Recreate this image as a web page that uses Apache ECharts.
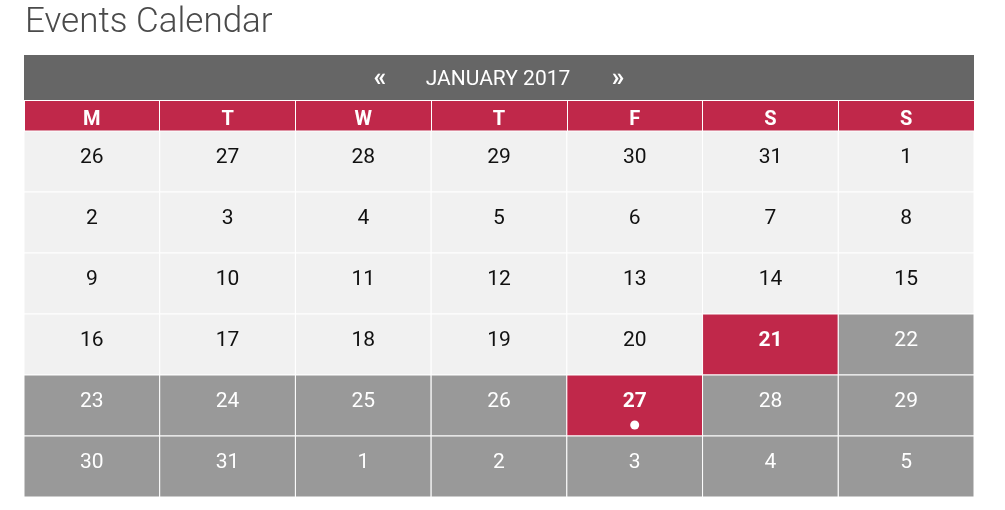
<!DOCTYPE html>
<html>
<head>
<meta charset="utf-8">
<title>Events Calendar</title>
<script src="https://cdn.jsdelivr.net/npm/echarts@6/dist/echarts.min.js"></script>
<style>
  html, body { margin: 0; padding: 0; background: #fff; }
  #calendar { width: 1005px; height: 510px; }
</style>
</head>
<body>
<div id="calendar"></div>
<script>
var weekdays = ['M', 'T', 'W', 'T', 'F', 'S', 'S'];
var monthLabel = 'JANUARY 2017';
var prevLabel = '\u00ab', nextLabel = '\u00bb';
var weekRows = [
    [26, 27, 28, 29, 30, 31, 1],
    [2, 3, 4, 5, 6, 7, 8],
    [9, 10, 11, 12, 13, 14, 15],
    [16, 17, 18, 19, 20, 21, 22],
    [23, 24, 25, 26, 27, 28, 29],
    [30, 31, 1, 2, 3, 4, 5]
];
// 0 = passed day, 1 = highlighted day, 2 = upcoming day
var cellStates = [
    [0, 0, 0, 0, 0, 0, 0],
    [0, 0, 0, 0, 0, 0, 0],
    [0, 0, 0, 0, 0, 0, 0],
    [0, 0, 0, 0, 0, 1, 2],
    [2, 2, 2, 2, 1, 2, 2],
    [2, 2, 2, 2, 2, 2, 2]
];
// [column, row] of cells that carry an event dot
var eventCells = [[4, 4]];
var weekLabels = ['w1', 'w2', 'w3', 'w4', 'w5', 'w6'];

var red = '#c0284a', darkGray = '#666666', midGray = '#999999', lightGray = '#f1f1f1';
var font = 'Roboto';

var cells = [];
weekRows.forEach(function (row, r) {
    row.forEach(function (day, c) {
        var hasEvent = eventCells.some(function (e) { return e[0] === c && e[1] === r; }) ? 1 : 0;
        cells.push([c, r, day, cellStates[r][c], hasEvent]);
    });
});

function renderCell(params, api) {
    var p = api.coord([api.value(0), api.value(1)]);
    var s = api.size([1, 1]);
    var x = p[0] - s[0] / 2, y = p[1] - s[1] / 2;
    var state = api.value(3);
    var fill = state === 0 ? lightGray : (state === 1 ? red : midGray);
    var children = [{
        type: 'rect',
        shape: {x: x, y: y, width: s[0], height: s[1]},
        style: {fill: fill, stroke: '#ffffff', lineWidth: 1}
    }, {
        type: 'text',
        x: p[0],
        y: y + 27,
        style: {
            text: String(api.value(2)),
            fill: state === 0 ? '#111111' : '#ffffff',
            fontSize: 21,
            fontFamily: font,
            fontWeight: state === 1 ? 'bold' : 'normal',
            align: 'center',
            verticalAlign: 'middle'
        }
    }];
    if (api.value(4)) {
        children.push({
            type: 'circle',
            shape: {cx: p[0], cy: y + 50, r: 4.5},
            style: {fill: '#ffffff'}
        });
    }
    return {type: 'group', children: children};
}

var chart = echarts.init(document.getElementById('calendar'));
var option = {
    backgroundColor: '#ffffff',
    animation: false,
    title: {
        text: 'Events Calendar',
        left: 25,
        top: 6,
        padding: 0,
        textStyle: {color: '#4a4a4a', fontSize: 35, fontWeight: 300, fontFamily: font}
    },
    graphic: [
        {type: 'rect', shape: {x: 24, y: 55, width: 950, height: 45}, style: {fill: darkGray}, z: 0},
        {type: 'rect', shape: {x: 24, y: 101, width: 950, height: 30}, style: {fill: red}, z: 0},
        {type: 'text', x: 498, y: 80, z: 1, style: {text: monthLabel, fill: '#ffffff', fontSize: 21, fontFamily: font, align: 'center', verticalAlign: 'middle'}},
        {type: 'text', x: 380, y: 80, z: 1, style: {text: prevLabel, fill: '#ffffff', fontSize: 25, fontWeight: 'bold', fontFamily: font, align: 'center', verticalAlign: 'middle'}},
        {type: 'text', x: 618, y: 80, z: 1, style: {text: nextLabel, fill: '#ffffff', fontSize: 25, fontWeight: 'bold', fontFamily: font, align: 'center', verticalAlign: 'middle'}}
    ],
    grid: {left: 24, right: 31, top: 131, bottom: 13},
    xAxis: {
        type: 'category',
        position: 'top',
        data: weekdays,
        z: 5,
        axisLine: {show: false},
        axisTick: {show: true, length: 30, lineStyle: {color: '#ffffff', width: 1}},
        axisLabel: {
            color: '#ffffff', fontSize: 20, fontWeight: 'bold', fontFamily: font,
            margin: 11, verticalAlign: 'middle'
        },
        splitLine: {show: false}
    },
    yAxis: {
        type: 'category',
        inverse: true,
        data: weekLabels,
        axisLine: {show: false},
        axisTick: {show: false},
        axisLabel: {show: false},
        splitLine: {show: false}
    },
    series: [{
        type: 'custom',
        renderItem: renderCell,
        data: cells,
        silent: true
    }]
};
chart.setOption(option);
</script>
</body>
</html>
